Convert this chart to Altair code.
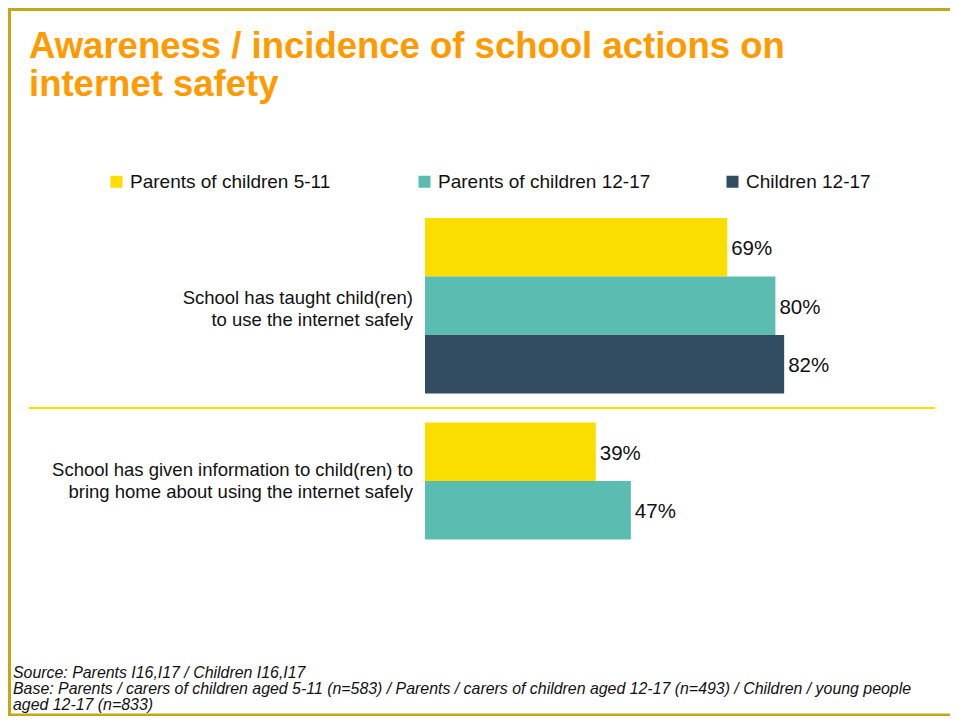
import altair as alt
import pandas as pd

FONT = "Liberation Sans"

categories = [
    "School has taught child(ren)\nto use the internet safely",
    "School has given information to child(ren) to\nbring home about using the internet safely",
]
series = ["Parents of children 5-11", "Parents of children 12-17", "Children 12-17"]
values_taught = [69, 80, 82]
values_info = [39, 47]
colors = ["#F9DE00", "#5BBCB1", "#324D61"]

title_lines = ["Awareness / incidence of school actions on", "internet safety"]
source_lines = [
    "Source: Parents I16,I17 / Children I16,I17",
    "Base: Parents / carers of children aged 5-11 (n=583) / Parents / carers of children aged 12-17 (n=493) / Children / young people",
    "aged 12-17 (n=833)",
]

rows = []
for s, v in zip(series, values_taught):
    rows.append({"category": categories[0], "series": s, "value": v, "label": f"{v}%"})
for s, v in zip(series, values_info):
    rows.append({"category": categories[1], "series": s, "value": v, "label": f"{v}%"})
df = pd.DataFrame(rows)
cat_df = pd.DataFrame({"category": categories})
one = pd.DataFrame({"k": [0]})

W, H = 438, 380
PAD = {"left": 417, "top": 210, "right": 87, "bottom": 118}
TOTAL_W = PAD["left"] + W + PAD["right"]
TOTAL_H = PAD["top"] + H + PAD["bottom"]

x_scale = alt.Scale(domain=[0, 100])
y_scale = alt.Scale(domain=categories, paddingInner=0.142, paddingOuter=0)
yo_scale = alt.Scale(domain=series, paddingInner=0, paddingOuter=0)

bars = alt.Chart(df).mark_bar().encode(
    x=alt.X("value:Q", scale=x_scale, axis=None),
    y=alt.Y("category:N", scale=y_scale, axis=None),
    yOffset=alt.YOffset("series:N", scale=yo_scale, sort=series),
    color=alt.Color(
        "series:N",
        scale=alt.Scale(domain=series, range=colors),
        legend=alt.Legend(
            title=None,
            orient="none",
            legendX=107 - 425,
            legendY=-46,
            direction="horizontal",
            columns=3,
            gridAlign="all",
            columnPadding=72,
            symbolType="square",
            symbolSize=144,
            symbolStrokeWidth=0,
            symbolOpacity=1,
            labelOffset=4,
            labelFont=FONT,
            labelFontSize=19,
            labelColor="#111111",
            labelLimit=400,
        ),
    ),
)

value_text = alt.Chart(df).mark_text(
    align="left", baseline="middle", dx=4, dy=2, fontSize=20.5, font=FONT, color="#111111"
).encode(
    x=alt.X("value:Q", scale=x_scale),
    y=alt.Y("category:N", scale=y_scale),
    yOffset=alt.YOffset("series:N", scale=yo_scale, sort=series),
    text="label:N",
)

cat_label_1 = alt.Chart(cat_df).transform_filter(
    alt.datum.category == categories[0]
).mark_text(
    align="right", baseline="middle", fontSize=18.5, font=FONT, color="#111111",
    lineBreak="\n", lineHeight=22, dy=-8
).encode(
    x=alt.value(-12),
    y=alt.Y("category:N", scale=y_scale),
    text="category:N",
)

cat_label_2 = alt.Chart(cat_df).transform_filter(
    alt.datum.category == categories[1]
).mark_text(
    align="right", baseline="middle", fontSize=18.5, font=FONT, color="#111111",
    lineBreak="\n", lineHeight=22, dy=-40
).encode(
    x=alt.value(-12),
    y=alt.Y("category:N", scale=y_scale),
    text="category:N",
)

separator = alt.Chart(one).mark_rule(color="#F9DE00", strokeWidth=2).encode(
    x=alt.value(29 - 425), x2=alt.value(935 - 425), y=alt.value(408 - 218)
)

title = alt.Chart(one).mark_text(
    text=title_lines, align="left", baseline="alphabetic", fontSize=36.5,
    fontWeight="bold", font=FONT, color="#FF9A00", lineHeight=37.5
).encode(x=alt.value(29 - 425), y=alt.value(58 - 218))

footnote = alt.Chart(one).mark_text(
    text=source_lines, align="left", baseline="alphabetic", fontSize=15.9,
    fontStyle="italic", font=FONT, color="#111111", lineHeight=16
).encode(x=alt.value(13 - 425), y=alt.value(678 - 218))

border_color = "#C2A816"
left = -PAD["left"]
top = -PAD["top"]
border_left = alt.Chart(one).mark_rule(color=border_color, strokeWidth=3).encode(
    x=alt.value(left + 1.5), y=alt.value(top), y2=alt.value(top + TOTAL_H)
)
border_top = alt.Chart(one).mark_rule(color=border_color, strokeWidth=3).encode(
    x=alt.value(left), x2=alt.value(left + TOTAL_W), y=alt.value(top + 1.5)
)
border_bottom = alt.Chart(one).mark_rule(color=border_color, strokeWidth=2.5).encode(
    x=alt.value(left), x2=alt.value(left + TOTAL_W), y=alt.value(top + TOTAL_H - 1.25)
)

chart = alt.layer(
    bars, value_text, cat_label_1, cat_label_2, separator, title, footnote,
    border_left, border_top, border_bottom
).properties(
    width=W, height=H, padding=PAD, autosize=alt.AutoSizeParams(type="none"),
    background="white",
).configure_view(stroke=None)

chart.save("out.html", embed_options={"renderer": "svg", "actions": False})
